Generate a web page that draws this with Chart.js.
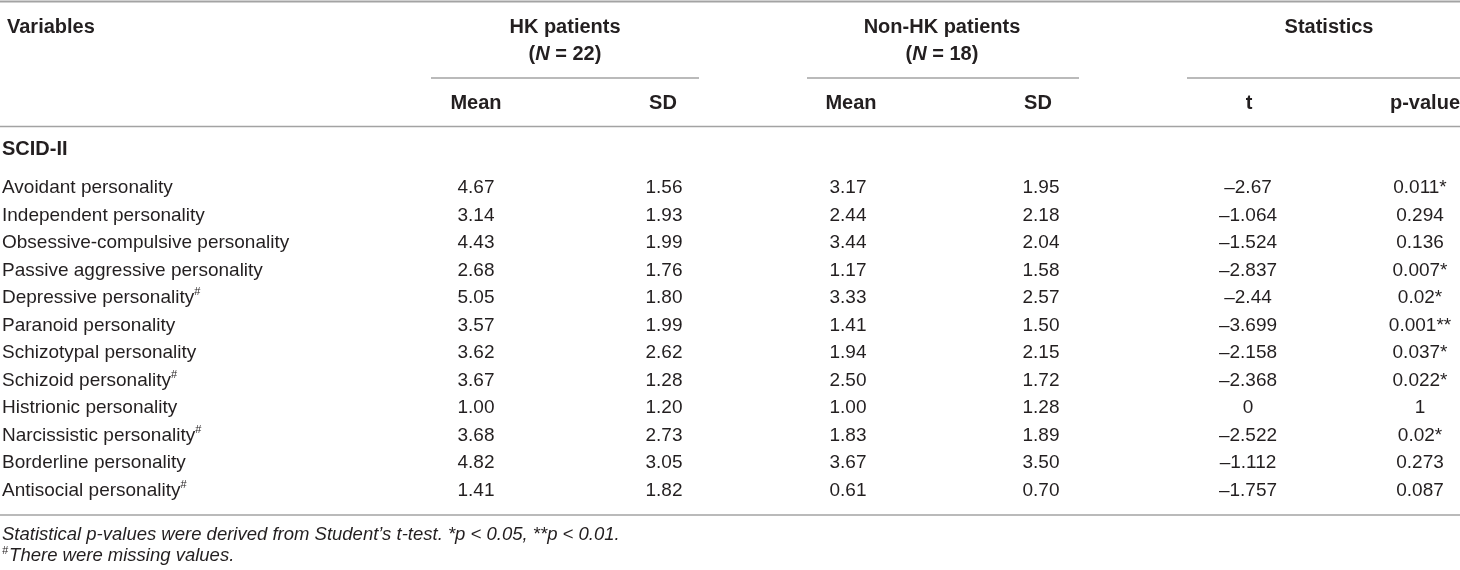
<!DOCTYPE html>
<html>
<head>
<meta charset="utf-8">
<script src="https://cdn.jsdelivr.net/npm/chart.js@4.4.1/dist/chart.umd.min.js"></script>
<style>
    html, body { margin: 0; padding: 0; background: #fff; }
    #wrap { width: 1460px; height: 570px; }
</style>
</head>
<body>
<div id="wrap"><canvas id="myChart" width="1460" height="570"></canvas></div>
<script>
// dados da tabela
const variaveis = [
    "Avoidant personality",
    "Independent personality",
    "Obsessive-compulsive personality",
    "Passive aggressive personality",
    "Depressive personality#",
    "Paranoid personality",
    "Schizotypal personality",
    "Schizoid personality#",
    "Histrionic personality",
    "Narcissistic personality#",
    "Borderline personality",
    "Antisocial personality#"
];
const hkMedia = ["4.67", "3.14", "4.43", "2.68", "5.05", "3.57", "3.62", "3.67", "1.00", "3.68", "4.82", "1.41"];
const hkDP = ["1.56", "1.93", "1.99", "1.76", "1.80", "1.99", "2.62", "1.28", "1.20", "2.73", "3.05", "1.82"];
const naoHkMedia = ["3.17", "2.44", "3.44", "1.17", "3.33", "1.41", "1.94", "2.50", "1.00", "1.83", "3.67", "0.61"];
const naoHkDP = ["1.95", "2.18", "2.04", "1.58", "2.57", "1.50", "2.15", "1.72", "1.28", "1.89", "3.50", "0.70"];
const valoresT = ["–2.67", "–1.064", "–1.524", "–2.837", "–2.44", "–3.699", "–2.158", "–2.368", "0", "–2.522", "–1.112", "–1.757"];
const valoresP = ["0.011*", "0.294", "0.136", "0.007*", "0.02*", "0.001**", "0.037*", "0.022*", "1", "0.02*", "0.273", "0.087"];

const grupos = ["HK patients", "Non-HK patients", "Statistics"];
const gruposN = ["(_N_ = 22)", "(_N_ = 18)"];
const subtitulos = ["Mean", "SD", "Mean", "SD", "t", "p-value"];
const secao = "SCID-II";
const tituloVariaveis = "Variables";
const notas = [
    "Statistical p-values were derived from Student’s t-test. *p < 0.05, **p < 0.01.",
    "#There were missing values."
];

// layout (pixels do canvas)
const COR_TEXTO = '#231f20';
const COR_LINHA = '#a3a3a3';
const FONTE = '"Liberation Sans", Arial, Helvetica, sans-serif';
const colX = [476, 664, 848, 1041, 1248, 1420];
const subX = [476, 663, 851, 1038, 1249, 1425];
const grupoX = [565, 942, 1329];
const LINHA_Y0 = 188;
const PASSO_Y = 27.5;
const linhaY = i => LINHA_Y0 + i * PASSO_Y;
const regras = [
    { y: 1.5, x0: 0, x1: 1460, w: 2 },
    { y: 78, x0: 431, x1: 699, w: 1.5 },
    { y: 78, x0: 807, x1: 1079, w: 1.5 },
    { y: 78, x0: 1187, x1: 1460, w: 1.5 },
    { y: 126.5, x0: 0, x1: 1460, w: 1.5 },
    { y: 515, x0: 0, x1: 1460, w: 1.5 }
];

function coluna(textos, x, estilo, alinhar) {
    return {
        data: textos.map((t, i) => ({ x: x, y: linhaY(i) })),
        textos: textos,
        estilo: estilo,
        alinhar: alinhar,
        pointRadius: 0,
        showLine: false
    };
}

function fonte(estilo, tamanho) {
    return (estilo.italico ? 'italic ' : '') + (estilo.negrito ? 'bold ' : '') + tamanho + 'px ' + FONTE;
}

// quebra o texto em partes: _x_ italico, # sobrescrito
function partes(texto) {
    return texto.split(/(_[^_]+_|#)/).filter(p => p.length).map(p => {
        if (p === '#') return { t: '#', sup: true };
        if (p[0] === '_') return { t: p.slice(1, -1), ital: true };
        return { t: p };
    });
}

function desenharTexto(ctx, texto, x, y, estilo, alinhar) {
    const tam = estilo.tamanho || 19;
    const pecas = partes(texto);
    let largura = 0;
    pecas.forEach(p => {
        const e = Object.assign({}, estilo, { italico: estilo.italico || p.ital });
        p.font = fonte(e, p.sup ? Math.round(tam * 0.6) : tam);
        ctx.font = p.font;
        p.w = ctx.measureText(p.t).width;
        largura += p.w;
    });
    let cx = alinhar === 'center' ? x - largura / 2 : x;
    ctx.textAlign = 'left';
    ctx.textBaseline = 'middle';
    ctx.fillStyle = COR_TEXTO;
    pecas.forEach(p => {
        ctx.font = p.font;
        ctx.fillText(p.t, cx, p.sup ? y - tam * 0.3 : y);
        cx += p.w + (p.sup ? 1 : 0);
    });
}

const pluginTabela = {
    id: 'tabela',
    beforeDatasetsDraw(chart) {
        const ctx = chart.ctx;
        const sx = chart.scales.x, sy = chart.scales.y;
        ctx.save();
        ctx.strokeStyle = COR_LINHA;
        regras.forEach(r => {
            const y = sy.getPixelForValue(r.y);
            ctx.lineWidth = r.w;
            ctx.beginPath();
            ctx.moveTo(sx.getPixelForValue(r.x0), y);
            ctx.lineTo(sx.getPixelForValue(r.x1), y);
            ctx.stroke();
        });
        ctx.restore();
    },
    afterDatasetsDraw(chart) {
        const ctx = chart.ctx;
        ctx.save();
        chart.data.datasets.forEach((ds, i) => {
            const meta = chart.getDatasetMeta(i);
            meta.data.forEach((el, j) => {
                desenharTexto(ctx, ds.textos[j], el.x, el.y, ds.estilo, ds.alinhar);
            });
        });
        ctx.restore();
    }
};

const normal = { tamanho: 19 };
const negrito = { tamanho: 20, negrito: true };
const italico = { tamanho: 18.5, italico: true };

const datasets = [
    coluna(variaveis, 2, normal, 'left'),
    coluna(hkMedia, colX[0], normal, 'center'),
    coluna(hkDP, colX[1], normal, 'center'),
    coluna(naoHkMedia, colX[2], normal, 'center'),
    coluna(naoHkDP, colX[3], normal, 'center'),
    coluna(valoresT, colX[4], normal, 'center'),
    coluna(valoresP, colX[5], normal, 'center'),
    {
        data: [{ x: 7, y: 27 }, { x: 2, y: 149 }],
        textos: [tituloVariaveis, secao],
        estilo: negrito, alinhar: 'left', pointRadius: 0
    },
    {
        data: grupos.map((g, i) => ({ x: grupoX[i], y: 27 }))
            .concat(gruposN.map((g, i) => ({ x: grupoX[i], y: 54 }))),
        textos: grupos.concat(gruposN),
        estilo: negrito, alinhar: 'center', pointRadius: 0
    },
    {
        data: subtitulos.map((s, i) => ({ x: subX[i], y: 103 })),
        textos: subtitulos,
        estilo: negrito, alinhar: 'center', pointRadius: 0
    },
    {
        data: notas.map((n, i) => ({ x: 2, y: 535 + i * 21 })),
        textos: notas,
        estilo: italico, alinhar: 'left', pointRadius: 0
    }
];

const config = {
    type: 'scatter',
    data: { datasets: datasets },
    options: {
        responsive: false,
        animation: false,
        events: [],
        layout: { padding: 0 },
        plugins: {
            legend: { display: false },
            tooltip: { enabled: false }
        },
        scales: {
            x: { type: 'linear', min: 0, max: 1460, display: false },
            y: { type: 'linear', min: 0, max: 570, reverse: true, display: false }
        }
    },
    plugins: [pluginTabela]
};

const ctx = document.getElementById('myChart').getContext('2d');
new Chart(ctx, config);
</script>
</body>
</html>
